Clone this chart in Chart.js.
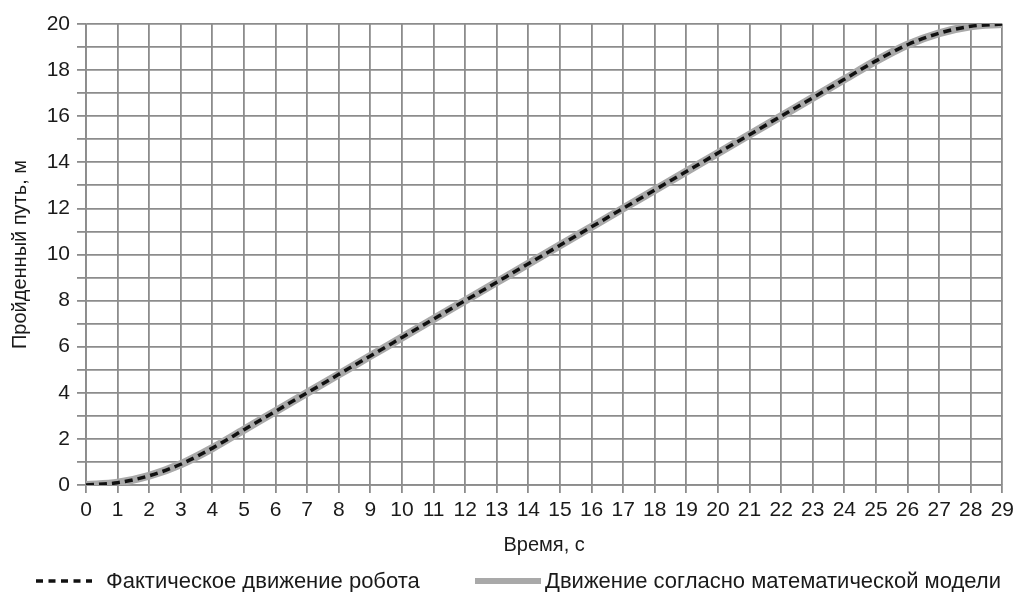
<!DOCTYPE html>
<html>
<head>
<meta charset="utf-8">
<script src="https://cdn.jsdelivr.net/npm/chart.js@4"></script>
<style>
  html, body { margin: 0; padding: 0; background: #fff; overflow: hidden; }
  #wrap { position: relative; width: 1019px; height: 592px; }
  #legend {
    position: absolute; left: 0; top: 569px; width: 1019px; height: 24px;
    font-family: 'Liberation Sans', Arial, sans-serif;
    font-size: 22px; color: #1a1a1a; white-space: nowrap;
  }
  .item { position: absolute; top: 0; display: flex; align-items: center; height: 24px; }
  .item svg { display: block; }
</style>
</head>
<body>
<div id="wrap">
  <canvas id="chart"></canvas>
  <div id="legend"></div>
</div>
<script>
const timeSec = [0, 1, 2, 3, 4, 5, 6, 7, 8, 9, 10, 11, 12, 13, 14, 15, 16, 17, 18, 19, 20, 21, 22, 23, 24, 25, 26, 27, 28, 29];
const actualPath = [0, 0.1, 0.4, 0.9, 1.6, 2.4, 3.2, 4.0, 4.8, 5.6, 6.4, 7.2, 8.0, 8.8, 9.6, 10.4, 11.2, 12.0, 12.8, 13.6, 14.4, 15.2, 16.0, 16.8, 17.6, 18.4, 19.1, 19.6, 19.9, 20.0];
const modelPath = [0, 0.1, 0.4, 0.9, 1.6, 2.4, 3.2, 4.0, 4.8, 5.6, 6.4, 7.2, 8.0, 8.8, 9.6, 10.4, 11.2, 12.0, 12.8, 13.6, 14.4, 15.2, 16.0, 16.8, 17.6, 18.4, 19.1, 19.6, 19.9, 20.0];
const seriesNames = ['Фактическое движение робота', 'Движение согласно математической модели'];

const toPoints = (ys) => ys.map((y, i) => ({ x: timeSec[i], y: y }));

const sans = 'Liberation Sans, Arial, sans-serif';
const gridColor = '#8c8c8c';
const textColor = '#1a1a1a';

const chart = new Chart(document.getElementById('chart'), {
  type: 'line',
  data: {
    datasets: [
      {
        label: seriesNames[0],
        data: toPoints(actualPath),
        borderColor: '#111',
        borderWidth: 3.5,
        borderDash: [8, 5],
        pointRadius: 0,
        cubicInterpolationMode: 'monotone',
        order: 0
      },
      {
        label: seriesNames[1],
        data: toPoints(modelPath),
        borderColor: '#a9a9a9',
        borderWidth: 8,
        pointRadius: 0,
        cubicInterpolationMode: 'monotone',
        order: 1
      }
    ]
  },
  options: {
    responsive: true,
    maintainAspectRatio: false,
    animation: false,
    layout: { padding: { left: 0, right: 0, top: 24, bottom: 30 } },
    scales: {
      x: {
        type: 'linear',
        min: 0,
        max: 29,
        afterFit: (scale) => { scale.height = 77; },
        ticks: { stepSize: 1, autoSkip: false, maxRotation: 0, color: textColor, font: { family: sans, size: 21 }, padding: 5 },
        grid: { color: gridColor, lineWidth: 1.8, tickLength: 8 },
        border: { color: gridColor, width: 1.8 },
        title: { display: true, text: 'Время, с', color: textColor, font: { family: sans, size: 20 }, padding: { top: 0, bottom: 5 } }
      },
      y: {
        min: 0,
        max: 20,
        afterFit: (scale) => { scale.width = 86; },
        ticks: {
          stepSize: 1,
          autoSkip: false,
          color: textColor,
          font: { family: sans, size: 21 },
          padding: 7,
          callback: (v) => (v % 2 === 0 ? v : '')
        },
        grid: { color: gridColor, lineWidth: 1.8, tickLength: 9 },
        border: { color: gridColor, width: 1.8 },
        title: { display: true, text: 'Пройденный путь, м', color: textColor, font: { family: sans, size: 20 }, padding: { top: 8, bottom: 0 } }
      }
    },
    plugins: {
      legend: { display: false },
      tooltip: { enabled: false }
    }
  }
});

// legend built from the dataset styles
const legendPos = [36, 475];
const legendLen = [56, 66];
const legendGap = [14, 4];
chart.data.datasets.forEach((ds, i) => {
  const item = document.createElement('div');
  item.className = 'item';
  item.style.left = legendPos[i] + 'px';
  const w = legendLen[i];
  const lw = i === 0 ? 3.5 : 6;
  const dash = ds.borderDash ? '7 5.5' : 'none';
  item.innerHTML =
    '<svg width="' + w + '" height="10" style="margin-right:' + legendGap[i] + 'px"><line x1="0" y1="5" x2="' + w + '" y2="5" stroke="' + ds.borderColor +
    '" stroke-width="' + lw + '" stroke-dasharray="' + dash + '"/></svg><span>' + ds.label + '</span>';
  document.getElementById('legend').appendChild(item);
});
</script>
</body>
</html>
